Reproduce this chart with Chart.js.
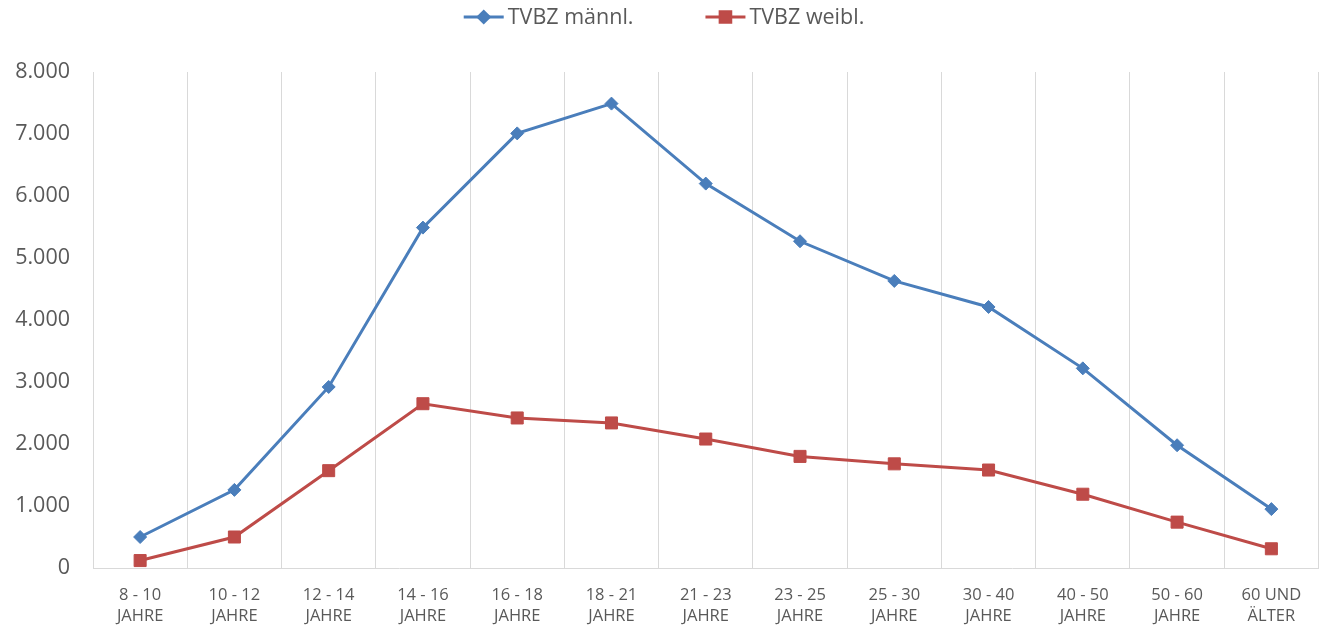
<!DOCTYPE html>
<html>
<head>
<meta charset="utf-8">
<script src="https://cdn.jsdelivr.net/npm/chart.js@4"></script>
<style>
  html, body { margin: 0; padding: 0; background: #fff; }
  #wrap { width: 1328px; height: 626px; position: relative; }
</style>
</head>
<body>
<div id="wrap"><canvas id="c" width="1328" height="626"></canvas></div>
<script>
const categories = [
  ['8 - 10', 'JAHRE'], ['10 - 12', 'JAHRE'], ['12 - 14', 'JAHRE'], ['14 - 16', 'JAHRE'],
  ['16 - 18', 'JAHRE'], ['18 - 21', 'JAHRE'], ['21 - 23', 'JAHRE'], ['23 - 25', 'JAHRE'],
  ['25 - 30', 'JAHRE'], ['30 - 40', 'JAHRE'], ['40 - 50', 'JAHRE'], ['50 - 60', 'JAHRE'],
  ['60 UND', 'ÄLTER']
];
const seriesNames = ['TVBZ männl.', 'TVBZ weibl.'];
const maleValues   = [500, 1260, 2920, 5490, 7010, 7490, 6200, 5270, 4630, 4210, 3220, 1980, 950];
const femaleValues = [120, 500, 1570, 2650, 2420, 2340, 2080, 1800, 1680, 1580, 1190, 740, 310];
const yTicks = [0, 1000, 2000, 3000, 4000, 5000, 6000, 7000, 8000];

const BLUE = '#4A7EBB';
const RED = '#BE4B48';
const TEXT = '#595959';
const GRID = '#D9D9D9';
const FONT = "'Open Sans', 'Noto Sans', sans-serif";

function fmt(v) {
  return String(Math.round(v)).replace(/\B(?=(\d{3})+(?!\d))/g, '.');
}

const customLegend = {
  id: 'customLegend',
  afterDraw(chart) {
    const ctx = chart.ctx;
    const ds = chart.data.datasets;
    ctx.save();
    ctx.font = '21.5px ' + FONT;
    const lineLen = 40, textGap = 4, itemGap = 72;
    const widths = ds.map(d => ctx.measureText(d.label).width);
    let total = 0;
    widths.forEach((w, i) => { total += lineLen + textGap + w + (i < widths.length - 1 ? itemGap : 0); });
    let x = (chart.width - total) / 2;
    const y = 17;
    ds.forEach((d, i) => {
      ctx.strokeStyle = d.borderColor;
      ctx.lineWidth = 3;
      ctx.beginPath();
      ctx.moveTo(x, y);
      ctx.lineTo(x + lineLen, y);
      ctx.stroke();
      Chart.helpers.drawPoint(ctx, {
        pointStyle: d.pointStyle,
        radius: d.pointStyle === 'rect' ? 7.5 : 5.5,
        borderWidth: 1,
        rotation: 0
      }, x + lineLen / 2, y);
      ctx.fillStyle = d.backgroundColor;
      ctx.fill();
      ctx.fillStyle = TEXT;
      ctx.textBaseline = 'middle';
      ctx.textAlign = 'left';
      ctx.fillText(d.label, x + lineLen + textGap, y + 1);
      x += lineLen + textGap + widths[i] + itemGap;
    });
    ctx.restore();
  }
};

new Chart(document.getElementById('c'), {
  type: 'line',
  data: {
    labels: categories,
    datasets: [
      {
        label: seriesNames[0], data: maleValues,
        borderColor: BLUE, backgroundColor: BLUE,
        borderWidth: 3, tension: 0,
        pointStyle: 'rectRot', pointRadius: 6.5, pointBorderWidth: 1,
        pointBackgroundColor: BLUE, pointBorderColor: BLUE
      },
      {
        label: seriesNames[1], data: femaleValues,
        borderColor: RED, backgroundColor: RED,
        borderWidth: 3, tension: 0,
        pointStyle: 'rect', pointRadius: 8.5, pointBorderWidth: 1,
        pointBackgroundColor: RED, pointBorderColor: RED
      }
    ]
  },
  options: {
    responsive: false,
    animation: false,
    layout: { padding: { top: 72, left: 0, right: 3, bottom: 0 } },
    plugins: {
      legend: { display: false },
      tooltip: { enabled: false }
    },
    scales: {
      x: {
        offset: true,
        grid: { display: true, offset: true, color: GRID, lineWidth: 1, drawTicks: false },
        border: { display: true, color: GRID, width: 1 },
        ticks: {
          color: TEXT, padding: 17, maxRotation: 0, autoSkip: false,
          font: { family: FONT, size: 16.5, lineHeight: 1.27 }
        },
        afterFit(scale) { scale.height = 58; }
      },
      y: {
        min: 0, max: 8000,
        grid: { display: false, drawTicks: false },
        border: { display: false },
        afterBuildTicks(scale) { scale.ticks = yTicks.map(v => ({ value: v })); },
        ticks: {
          color: TEXT, padding: 23,
          font: { family: FONT, size: 21.5 },
          callback: (v) => fmt(v)
        },
        afterFit(scale) { scale.width = 93; }
      }
    }
  },
  plugins: [customLegend]
});
</script>
</body>
</html>
